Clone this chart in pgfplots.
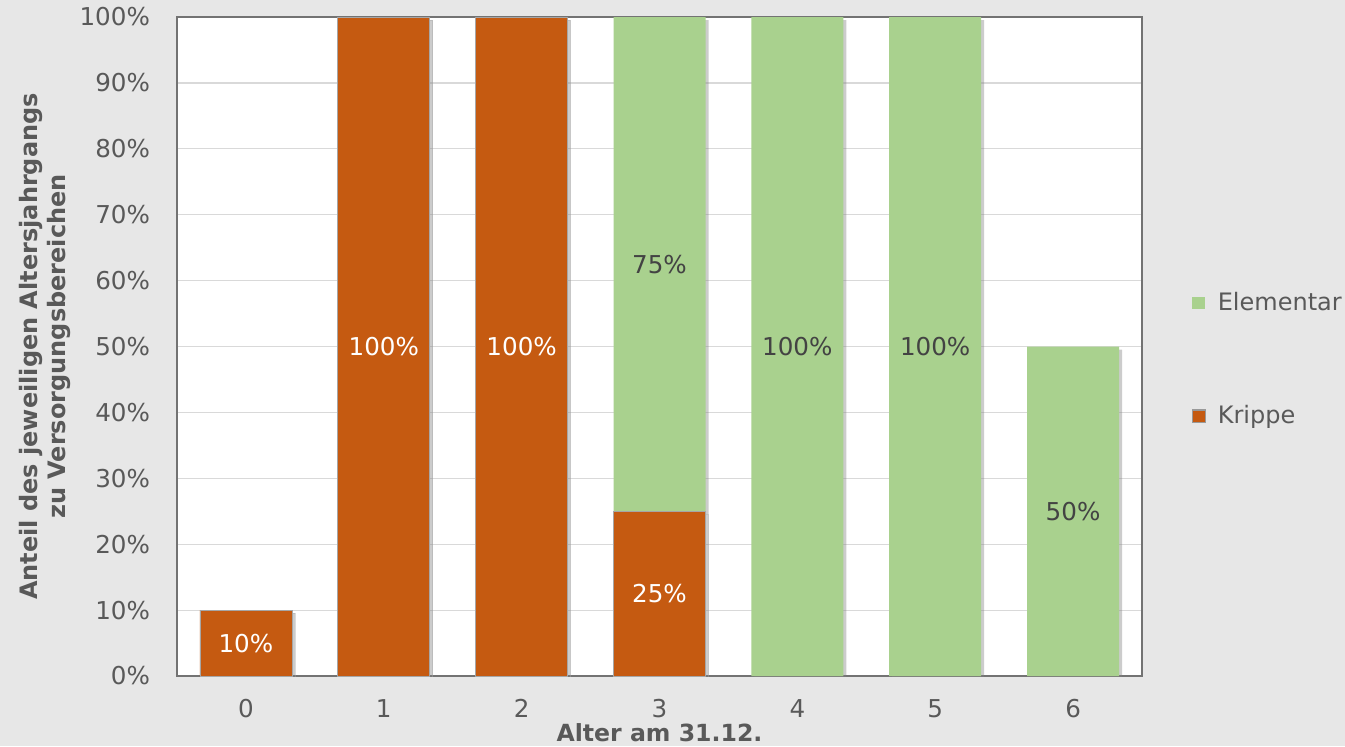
\documentclass[border=0pt]{standalone}
\usepackage{pgfplots}
\pgfplotsset{compat=1.18}
\usepackage{fontspec}
\setmainfont{DejaVu Sans}
\usetikzlibrary{shadows}
\definecolor{bg}{HTML}{E7E7E7}
\definecolor{krippe}{HTML}{C55A11}
\definecolor{elem}{HTML}{A9D18E}
\definecolor{txt}{HTML}{595959}
\definecolor{grid}{HTML}{D9D9D9}
\pgfplotsset{
  common/.style={
    at={(88.5pt,35pt)}, anchor=south west,
    scale only axis, width=482.5pt, height=329.5pt,
    xmin=-0.5, xmax=6.5, ymin=0, ymax=100,
  }
}
\begin{document}
\begin{tikzpicture}
\fill[bg] (0,0) rectangle (672.5pt,373pt);
\begin{axis}[
  common,
  ybar stacked, bar width=46pt,
  xtick={0,...,6}, ytick={0,10,...,100},
  yticklabel={\pgfmathprintnumber{\tick}\%},
  /pgf/number format/assume math mode=true,
  major tick length=0pt,
  ymajorgrids, grid style={draw=grid, line width=0.6pt},
  axis line style={draw=gray!90!black, line width=0.6pt},
  axis background/.style={fill=white},
  tick label style={font=\fontsize{12.3}{14}\selectfont, text=txt},
  yticklabel style={xshift=-10pt},
  xticklabel style={yshift=-8pt},
  xlabel={Alter am 31.12.},
  xlabel style={at={(axis description cs:0.5,-0.086)}, anchor=center, inner sep=0.5pt, font=\bfseries\fontsize{11.8}{14}\selectfont, text=txt},
  ylabel={Anteil des jeweiligen Altersjahrgangs\\zu Versorgungsbereichen},
  ylabel style={at={(axis description cs:-0.137,0.5)}, anchor=center, align=center, font=\bfseries\fontsize{12}{14}\selectfont, text=txt},
  legend style={draw=none, fill=none, at={(axis description cs:1.045,0.48)}, anchor=west, row sep=42pt, font=\fontsize{12}{14}\selectfont, text=txt, nodes={inner xsep=6pt}},
  legend cell align=left,
  legend image code/.code={\path[#1] (0pt,-3.2pt) rectangle (6.4pt,3.2pt);},
]
\addplot[fill=krippe, draw=gray!70, line width=0.4pt, drop shadow={shadow xshift=1.5pt, shadow yshift=-1.5pt, opacity=0.4}, forget plot]
  coordinates {(0,10) (1,100) (2,100) (3,25) (4,0) (5,0) (6,0)};
\addplot[fill=elem, draw=none, drop shadow={shadow xshift=1.5pt, shadow yshift=-1.5pt, opacity=0.4}, forget plot]
  coordinates {(0,0) (1,0) (2,0) (3,75) (4,100) (5,100) (6,50)};
\addlegendimage{fill=elem, draw=none}
\addlegendentry{Elementar}
\addlegendimage{fill=krippe, draw=gray!80, line width=0.6pt}
\addlegendentry{Krippe}
\end{axis}
\begin{axis}[
  common, hide axis,
  point meta=explicit symbolic,
  nodes near coords,
  every node near coord/.append style={anchor=center, font=\fontsize{12.3}{14}\selectfont},
]
\addplot[draw=none, mark=none, nodes near coords style={text=white}]
  coordinates {(0,5)[10\%] (1,50)[100\%] (2,50)[100\%] (3,12.5)[25\%]};
\addplot[draw=none, mark=none, nodes near coords style={text=txt!75!black}]
  coordinates {(3,62.5)[75\%] (4,50)[100\%] (5,50)[100\%] (6,25)[50\%]};
\end{axis}
\pgfresetboundingbox
\useasboundingbox (0,0) rectangle (672.5pt,373pt);
\end{tikzpicture}
\end{document}
